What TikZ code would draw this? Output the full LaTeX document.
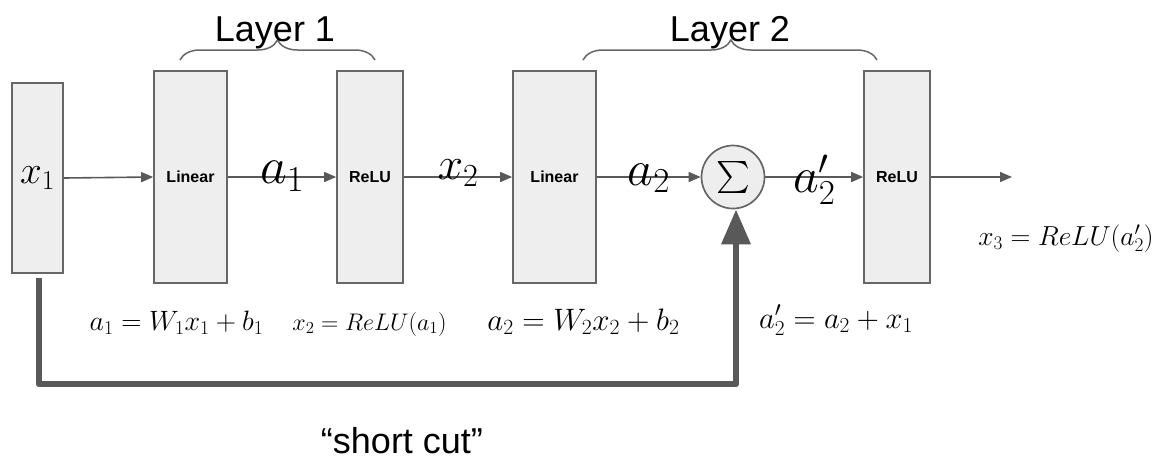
\RequirePackage{fix-cm}
\documentclass[tikz,border=0pt]{standalone}
\usepackage{fontspec}
\newfontfamily\arialf{Liberation Sans}
\usetikzlibrary{arrows.meta,decorations.pathreplacing}
\definecolor{boxfill}{HTML}{EEEEEE}
\definecolor{boxline}{HTML}{666666}
\definecolor{arrowc}{HTML}{595959}
\begin{document}
\begin{tikzpicture}[x=1pt,y=-1pt,
  blk/.style={draw=boxline,fill=boxfill,line width=1.7pt,inner sep=0pt,
    minimum height=212pt,font=\arialf\bfseries\fontsize{16}{18}\selectfont},
  sumnode/.style={circle,draw=boxline,fill=boxfill,line width=1.7pt,inner sep=0pt,
    minimum size=63pt,font=\normalsize},
  arr/.style={draw=arrowc,line width=1.6pt,-{Triangle[length=12pt,width=10pt]}},
  shortc/.style={draw=arrowc,line width=6.5pt,line join=round,
    -{Triangle[length=35pt,width=28pt]}},
  brc/.style={draw=boxline,line width=1.5pt,decorate,decoration={brace,amplitude=20pt}},
  biglbl/.style={inner sep=0pt,font=\fontsize{52}{58}\selectfont},
  layerlbl/.style={anchor=base,inner sep=0pt,font=\arialf\fontsize{36}{40}\selectfont},
  eqn/.style={anchor=base,inner sep=0pt}
]
\fill[white] (0,0) rectangle (1157,459);
\useasboundingbox (0,0) rectangle (1157,459);

% blocks
\node[blk,minimum width=51pt,minimum height=190pt] (x1) at (37.5,178)
  {\fontsize{39}{42}\selectfont$x_1$};
\node[blk,minimum width=73pt] (lin1) at (190.5,177) {Linear};
\node[blk,minimum width=66pt] (relu1) at (370,177) {ReLU};
\node[blk,minimum width=83pt] (lin2) at (554.5,177) {Linear};
\node[sumnode] (sigma) at (733,177) {\scalebox{3.2}{$\textstyle\sum$}};
\node[blk,minimum width=66pt] (relu2) at (897,177) {ReLU};
\coordinate (out) at (1012,177);

% forward arrows
\draw[arr] (x1.east) -- (lin1.west);
\draw[arr] (lin1) -- node[biglbl,midway,yshift=1pt] (la1) {$a_1$} (relu1);
\draw[arr] (relu1) -- node[biglbl,midway,font=\fontsize{46}{52}\selectfont,yshift=4pt] (lx2) {$x_2$} (lin2);
\draw[arr] (lin2) -- node[biglbl,midway,font=\fontsize{50}{56}\selectfont,yshift=-1pt] (la2) {$a_2$} (sigma);
\draw[arr] (sigma) -- node[biglbl,midway,font=\fontsize{50}{56}\selectfont,yshift=-3pt] (la2p) {$a_2'$} (relu2);
\draw[arr] (relu2) -- (out);

% shortcut
\coordinate (sc) at (736,384);
\draw[shortc] ([xshift=1.5pt,yshift=-4pt]x1.south) |- (sc) -- (sc |- sigma.south);

% braces
\coordinate (b1s) at (180,60);
\coordinate (b1e) at (375,60);
\coordinate (b2s) at (583,60);
\coordinate (b2e) at (877,60);
\draw[brc] (b1s) -- (b1e);
\draw[brc,decoration={brace,amplitude=20pt,aspect=0.503}] (b2s) -- (b2e);
\node[layerlbl] (L1) at (275,41) {Layer 1};
\node[layerlbl] (L2) at (730,41) {Layer 2};

% equations
\node[eqn,font=\fontsize{28}{31}\selectfont] (e1) at (176.5,330) {$a_1 = W_1x_1 + b_1$};
\node[eqn,font=\fontsize{24}{28}\selectfont] (e2) at (369.5,330) {$x_2 = ReLU(a_1)$};
\node[eqn,font=\fontsize{31}{35}\selectfont] (e3) at (583.5,330) {$a_2 = W_2x_2 + b_2$};
\node[eqn,font=\fontsize{30.5}{34}\selectfont] (e4) at (836,328) {$a_2' = a_2 + x_1$};
\node[eqn,font=\fontsize{27.5}{30}\selectfont] (e5) at (1066,245) {$x_3 = ReLU(a_2')$};

\node[layerlbl] (sclbl) at (402,453) {“short cut”};
\end{tikzpicture}
\end{document}
